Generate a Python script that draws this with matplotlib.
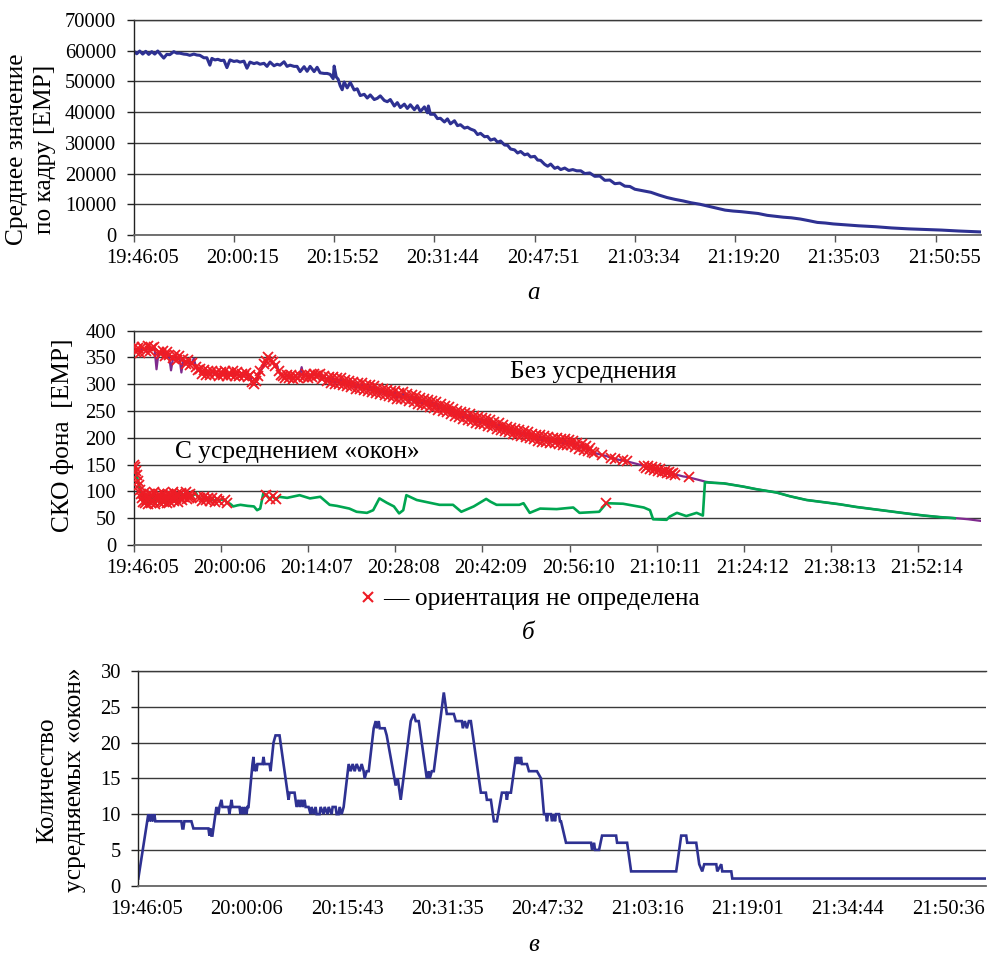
import matplotlib
matplotlib.use('Agg')
import matplotlib.pyplot as plt
from matplotlib.transforms import ScaledTranslation

plt.rcParams['font.family'] = 'serif'
plt.rcParams['font.serif'] = ['Liberation Serif', 'DejaVu Serif']

# ---------------- Panel a: mean value per frame ----------------
a_frame = [0, 3, 6, 9, 12, 15, 18, 21, 24, 27, 30, 33, 36, 40, 43, 46, 50, 53, 56, 60,
           63, 66, 70, 73, 76, 78, 81, 84, 87, 90, 93, 96, 100, 103, 106, 110, 113, 116, 120, 123,
           126, 130, 133, 136, 140, 143, 146, 150, 153, 156, 160, 163, 166, 170, 173, 176, 180, 183, 186, 190,
           193, 196, 199, 200, 202, 204, 206, 208, 210, 213, 216, 220, 223, 226, 230, 233, 236, 240, 243, 246,
           250, 253, 256, 260, 263, 266, 270, 273, 276, 280, 283, 286, 290, 293, 294, 296, 300, 303, 306, 310,
           313, 316, 320, 323, 326, 330, 333, 336, 340, 343, 346, 350, 353, 356, 360, 363, 366, 370, 373, 376,
           380, 383, 386, 390, 393, 396, 400, 403, 406, 410, 413, 416, 420, 423, 426, 430, 434, 438, 442, 446,
           450, 455, 460, 465, 470, 475, 480, 485, 490, 495, 500, 508, 516, 524, 532, 540, 548, 556, 565, 573,
           582, 590, 598, 606, 615, 623, 632, 640, 648, 656, 665, 673, 682, 690, 698, 706, 715, 723, 740, 756,
           773, 790, 806, 823, 845]
a_value = [59900, 59000, 59900, 58900, 59800, 58800, 59700, 58900, 59900, 58700, 57600, 58800, 58700, 59700, 59200, 59200, 58900, 58800, 58500, 58900,
           58600, 58500, 57700, 57700, 55300, 57500, 57000, 57200, 56800, 56900, 54500, 57000, 56500, 56700, 56300, 56600, 54300, 56300, 55800, 56100,
           55600, 55900, 54900, 56300, 55100, 55600, 55300, 56400, 54900, 55300, 54900, 54900, 53200, 54800, 53300, 54900, 53200, 54600, 52800, 52600,
           52600, 52300, 50900, 55000, 51500, 50700, 48600, 47300, 49800, 47900, 49700, 47200, 47600, 45400, 45800, 44600, 45600, 44100, 44500, 45300,
           43800, 43400, 44100, 42000, 43100, 41500, 42600, 41200, 42400, 40800, 42100, 40200, 41700, 39800, 42000, 39300, 39300, 37900, 38000, 36800,
           37800, 36200, 37200, 35600, 35900, 34800, 35100, 34500, 34000, 32700, 33100, 32000, 32100, 30900, 31300, 30200, 30600, 29300, 29200, 28000,
           27700, 26700, 27200, 26100, 26400, 25400, 25600, 24400, 24300, 23000, 22400, 23100, 21700, 22100, 21300, 21800, 21000, 21300, 20900, 20900,
           20000, 20200, 19100, 19200, 17800, 17900, 16700, 16900, 15900, 15800, 14900, 14400, 13900, 13000, 12200, 11600, 11100, 10500, 10000, 9400,
           8700, 8100, 7800, 7600, 7300, 7000, 6400, 6100, 5800, 5600, 5200, 4700, 4100, 3900, 3600, 3400, 3200, 3000, 2700, 2300,
           2000, 1800, 1600, 1300, 1000]
a_ticklabels = ['19:46:05', '20:00:15', '20:15:52', '20:31:44', '20:47:51',
                '21:03:34', '21:19:20', '21:35:03', '21:50:55']

# ---------------- Panel b: background RMS (time in units of 10 s) ----------------
# "without averaging" series: regular samples every 20 s up to 444, then sparser
b_up_t = list(range(0, 445, 2)) + [
    448, 452, 456, 460, 464, 468, 472, 476, 480, 484, 488,
    492, 494, 496, 498, 500, 502, 504, 506, 508, 510, 512, 514, 516, 518, 520, 522,
    526, 530, 534, 536, 540, 546, 552, 560, 570, 588, 601, 620, 633, 649, 665, 681, 697,
    713, 729, 745, 762, 778, 794, 805, 817]
b_up_val = [
    370, 361, 367, 359, 369, 365, 362, 371, 363, 368,
    369, 328, 360, 357, 363, 352, 360, 355, 326, 349,
    355, 346, 352, 322, 347, 337, 345, 336, 340, 348,
    333, 326, 329, 320, 327, 318, 324, 317, 325, 319,
    323, 316, 322, 318, 325, 315, 321, 317, 324, 316,
    322, 315, 320, 316, 321, 314, 318, 305, 300, 306,
    316, 324, 330, 337, 343, 350, 345, 341, 335, 337,
    324, 318, 316, 312, 318, 311, 317, 310, 315, 311,
    316, 332, 313, 319, 312, 318, 314, 320, 315, 318,
    320, 309, 316, 306, 314, 303, 313, 300, 311, 301,
    311, 299, 308, 296, 307, 294, 305, 292, 303, 291,
    302, 290, 299, 287, 298, 285, 296, 283, 293, 282,
    292, 280, 290, 278, 288, 276, 287, 273, 284, 272,
    285, 272, 282, 269, 280, 266, 278, 263, 275, 262,
    273, 261, 271, 258, 269, 255, 266, 252, 263, 250,
    260, 248, 257, 245, 254, 241, 251, 238, 248, 236,
    246, 234, 244, 231, 241, 228, 239, 226, 237, 225,
    235, 223, 233, 220, 230, 217, 227, 214, 224, 212,
    221, 210, 219, 207, 217, 205, 215, 203, 212, 201,
    210, 199, 208, 197, 206, 195, 205, 193, 203, 192,
    202, 191, 200, 190, 199, 188, 198, 187, 197, 186,
    196, 186, 194, 183, 191, 180, 188, 177, 185, 175,
    181, 174, 172,
    170, 168, 166, 163, 161, 159, 158, 156, 154, 152, 150,
    148, 144, 147, 142, 145, 140, 143, 138, 141, 136, 139, 134, 137, 133, 135, 131,
    130, 128, 127, 126, 124, 121, 118, 116, 115, 109, 104, 98, 91, 84, 80, 76, 71,
    67, 63, 59, 55, 52, 50, 48, 45]
# intervals (in 10 s units) where the orientation was not determined
b_up_undet = [(0, 20), (24, 34), (38, 44), (48, 56), (60, 122), (126, 136), (140, 160),
              (164, 444), (452, 452), (460, 464), (472, 476), (492, 522), (536, 536)]

# "with window averaging" series
b_lo_t = list(range(0, 56)) + [
    57, 60, 62, 64, 66, 68, 70, 72, 74, 76, 78, 80, 82, 85, 88, 90, 93, 96, 100, 103,
    110, 116, 119, 122, 125, 128, 131, 134, 137, 140,
    148, 160, 170, 180, 189, 196, 208, 215, 225, 231, 237, 244, 251, 256, 260, 263, 273, 283, 295, 308,
    316, 328, 340, 344, 350, 353, 372, 376, 382, 392, 408, 424, 430, 449, 456, 472, 492, 498, 501, 514,
    517, 524, 533, 543, 549, 551, 569, 588, 601, 620, 633, 649, 665, 681, 697, 713, 729, 745, 762, 778,
    792]
b_lo_val = [
    150, 145, 138, 130, 120, 112, 103, 95, 88,
    81, 97, 78, 92, 84, 76, 95, 88, 79, 93, 82, 98, 77, 90, 85, 95, 79, 89, 83, 97, 80, 92, 86, 78, 96,
    88, 81, 94, 85, 99, 82, 91, 87, 96, 80, 93, 88, 97, 84, 92, 89, 98, 85, 94, 88, 96, 90,
    92, 97, 90, 88, 83, 90, 84, 88, 82, 87, 81, 86, 83, 85, 84, 79, 77, 72, 74, 75,
    73, 72, 65, 68, 96, 93, 86, 91, 85, 90,
    88, 93, 87, 90, 75, 73, 68, 62, 60, 65, 87, 79, 72, 59, 65, 93, 84, 80, 75, 75,
    62, 72, 86, 81, 75, 75, 75, 78, 60, 68, 67, 70, 60, 62, 78, 77, 70, 65, 48, 47,
    53, 60, 54, 60, 55, 117, 115, 109, 104, 98, 91, 84, 80, 76, 71, 67, 63, 59, 55, 52,
    50]
b_lo_undet = [(0, 55), (62, 82), (88, 90), (128, 137), (456, 456)]

b_tick_step = 84.1  # 841 s between labels
b_ticklabels = ['19:46:05', '20:00:06', '20:14:07', '20:28:08', '20:42:09',
                '20:56:10', '21:10:11', '21:24:12', '21:38:13', '21:52:14']

# ---------------- Panel c: number of averaged windows ----------------
c_frame = [0, 10, 11, 12, 13, 14, 15, 16, 17, 43, 44, 45, 46, 53, 55, 70, 71, 72, 73, 74,
           75, 77, 78, 80, 81, 83, 84, 90, 91, 93, 94, 101, 102, 103, 104, 105, 106, 107, 108, 109,
           110, 114, 115, 116, 117, 118, 119, 124, 125, 126, 131, 132, 135, 137, 141, 143, 150, 151, 156, 158,
           160, 161, 163, 164, 166, 167, 170, 172, 173, 175, 177, 178, 181, 182, 185, 186, 189, 190, 193, 194,
           197, 198, 200, 201, 203, 205, 210, 212, 214, 216, 218, 221, 223, 225, 226, 228, 230, 235, 237, 238,
           240, 241, 246, 248, 257, 259, 262, 272, 275, 277, 280, 288, 290, 291, 293, 295, 305, 308, 315, 317,
           323, 324, 326, 328, 330, 332, 342, 347, 348, 352, 355, 358, 363, 367, 368, 369, 372, 377, 378, 379,
           381, 382, 383, 385, 388, 390, 398, 402, 405, 407, 408, 409, 412, 413, 415, 416, 417, 420, 421, 422,
           427, 452, 453, 455, 456, 457, 460, 463, 477, 478, 488, 492, 537, 542, 547, 548, 557, 560, 563, 565,
           577, 578, 582, 583, 592, 593, 846]
c_count = [1, 10, 9, 10, 9, 10, 9, 10, 9, 9, 8, 8, 9, 9, 8, 8, 7, 8, 7, 7,
           8, 10, 11, 10, 11, 12, 11, 11, 10, 12, 11, 11, 10, 11, 10, 11, 10, 11, 10, 11,
           11, 17, 18, 16, 17, 16, 17, 17, 18, 17, 17, 16, 20, 21, 21, 19, 12, 13, 13, 11,
           12, 11, 12, 11, 12, 11, 11, 10, 11, 10, 11, 10, 10, 11, 10, 11, 10, 11, 10, 11,
           11, 10, 10, 11, 10, 11, 17, 16, 17, 16, 17, 16, 17, 16, 15, 16, 16, 22, 23, 22,
           23, 22, 22, 21, 14, 15, 12, 23, 24, 23, 23, 15, 16, 15, 16, 16, 27, 24, 24, 23,
           23, 22, 23, 22, 23, 23, 13, 13, 12, 12, 9, 9, 13, 13, 12, 13, 13, 18, 17, 18,
           17, 18, 17, 17, 17, 16, 16, 15, 10, 10, 9, 10, 10, 9, 10, 9, 10, 10, 9, 9,
           6, 6, 5, 6, 5, 5, 5, 7, 7, 6, 6, 2, 2, 7, 7, 6, 6, 3, 2, 3,
           3, 2, 3, 2, 2, 1, 1]
c_ticklabels = ['19:46:05', '20:00:06', '20:15:43', '20:31:35', '20:47:32',
                '21:03:16', '21:19:01', '21:34:44', '21:50:36']

NAVY = '#2E3192'
RED = '#EE1C25'
GREEN = '#00A651'
PURPLE = '#7F2A8E'
GRID = '#3a3a3a'
FS_TICK = 14.8
FS_TEXT = 18.3

fig = plt.figure(figsize=(9.9, 9.56), dpi=100)
W, H = 990, 956


def add_axes(left, top, right, bottom):
    return fig.add_axes([left / W, 1 - bottom / H, (right - left) / W, (bottom - top) / H])


def style(ax, xticks, xlabels, xlim, yticks, ylim, minor_ticks=None):
    ax.set_xlim(*xlim)
    ax.set_ylim(*ylim)
    ax.set_yticks(yticks)
    ax.set_xticks(xticks)
    ax.set_xticklabels(xlabels)
    ax.spines['right'].set_visible(False)
    ax.spines['top'].set_color(GRID)
    ax.spines['top'].set_linewidth(1.0)
    ax.spines['left'].set_color('#222222')
    ax.spines['left'].set_linewidth(1.0)
    ax.spines['bottom'].set_color('#666666')
    ax.spines['bottom'].set_linewidth(1.3)
    ax.yaxis.grid(True, color=GRID, linewidth=1.0)
    ax.set_axisbelow(True)
    ax.tick_params(axis='y', length=5, width=1, color='#222222', labelsize=FS_TICK, pad=7.5)
    if minor_ticks is None:
        ax.tick_params(axis='x', length=5, width=1, color='#555555', labelsize=FS_TICK, pad=5)
    else:
        ax.tick_params(axis='x', which='major', length=0, labelsize=FS_TICK, pad=10)
        ax.set_xticks(minor_ticks, minor=True)
        ax.tick_params(axis='x', which='minor', length=5, width=1, color='#555555')
    for lab in ax.get_xticklabels():
        lab.set_transform(lab.get_transform() + ScaledTranslation(6.1 / 72, 0, fig.dpi_scale_trans))


def undetermined(ts, vals, intervals):
    xs, ys = [], []
    for t, v in zip(ts, vals):
        if any(a <= t <= b for a, b in intervals):
            xs.append(t)
            ys.append(v)
    return xs, ys


# ---- panel a
axa = add_axes(133.7, 20, 980.7, 235)
axa.plot(a_frame, a_value, color=NAVY, linewidth=2.2, solid_joinstyle='round')
style(axa, [100 * i for i in range(len(a_ticklabels))], a_ticklabels, (0, 845),
      range(0, 70001, 10000), (0, 70000))
fig.text(31 / W, 1 - 149 / H, 'Среднее значение\nпо кадру [ЕМР]', rotation=90,
         ha='center', va='center', fontsize=FS_TEXT, linespacing=1.35)
fig.text(534 / W, 1 - 293 / H, 'а', fontsize=18, style='italic', ha='center', va='center')

# ---- panel b
axb = add_axes(133.7, 330.7, 980.7, 545)
axb.plot(b_up_t, b_up_val, color=PURPLE, linewidth=1.6, zorder=2)
axb.plot(b_lo_t, b_lo_val, color=GREEN, linewidth=1.9, zorder=3)
for ts, vs, iv in [(b_up_t, b_up_val, b_up_undet), (b_lo_t, b_lo_val, b_lo_undet)]:
    ux, uy = undetermined(ts, vs, iv)
    axb.plot(ux, uy, linestyle='none', marker='x', color=RED, markersize=7,
             markeredgewidth=1.3, zorder=4)
style(axb, [b_tick_step * i for i in range(len(b_ticklabels))], b_ticklabels, (0, 817),
      range(0, 401, 50), (0, 400))
axb.text(0.543, 0.809, 'Без усреднения', transform=axb.transAxes, fontsize=FS_TEXT,
         ha='center', va='center')
axb.text(0.1926, 0.435, 'С усреднением «окон»', transform=axb.transAxes, fontsize=FS_TEXT,
         ha='center', va='center')
fig.text(62 / W, 1 - 435 / H, 'СКО фона  [ЕМР]', rotation=90, ha='center', va='center',
         fontsize=FS_TEXT)
fig.lines.append(plt.Line2D([368 / W], [1 - 597 / H], transform=fig.transFigure,
                            marker='x', color=RED, markersize=7.5, markeredgewidth=1.5,
                            linestyle='none'))
fig.text(383 / W, 1 - 599 / H, '— ориентация не определена', fontsize=FS_TEXT,
         ha='left', va='center')
fig.text(528 / W, 1 - 633 / H, 'б', fontsize=18, style='italic', ha='center', va='center')

# ---- panel c
axc = add_axes(138.3, 671, 985.7, 885.7)
axc.plot(c_frame, c_count, color=NAVY, linewidth=1.9, solid_joinstyle='miter')
style(axc, [100 * i for i in range(len(c_ticklabels))], c_ticklabels, (0, 846),
      range(0, 31, 5), (0, 30), minor_ticks=[200 * i for i in range(5)])
fig.text(61 / W, 1 - 780 / H, 'Количество\nусредняемых «окон»', rotation=90,
         ha='center', va='center', fontsize=FS_TEXT, linespacing=1.35)
fig.text(534 / W, 1 - 945 / H, 'в', fontsize=18, style='italic', ha='center', va='center')

fig.savefig('out.png', dpi=100)
